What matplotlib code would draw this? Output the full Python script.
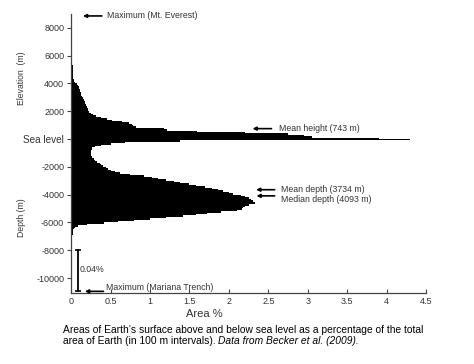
import numpy as np
import matplotlib.pyplot as plt
from matplotlib import transforms

plt.rcParams['font.family'] = ['Liberation Sans', 'DejaVu Sans']

# area % per 100 m bin, land from sea level upward (0-100 m first)
land_pct = [3.9, 3.05, 2.95, 2.75, 2.2, 1.6, 1.22, 1.18, 0.82, 0.79,
            0.77, 0.74, 0.65, 0.52, 0.45, 0.38, 0.32, 0.28, 0.25, 0.23,
            0.22, 0.21, 0.2, 0.2, 0.19, 0.18, 0.17, 0.16, 0.16, 0.15,
            0.14, 0.13, 0.12, 0.12, 0.11, 0.11, 0.1, 0.1, 0.09, 0.07,
            0.05, 0.04, 0.035, 0.03, 0.03, 0.03, 0.03, 0.025, 0.025, 0.02,
            0.02, 0.02, 0.018, 0.015, 0.015, 0.012, 0.01, 0.008, 0.005, 0.003,
            0.002, 0.001, 0.001, 0.0005, 0.0003, 0.0002, 0.0001, 0.0001, 0.0001, 0.0001,
            0, 0, 0, 0, 0, 0, 0, 0, 0, 0,
            0, 0, 0, 0, 0, 0, 0, 0, 0, 0]

# area % per 100 m bin, ocean from sea level downward (-100-0 m first)
ocean_pct = [4.3, 1.38, 0.68, 0.5, 0.38, 0.3, 0.27, 0.26, 0.25, 0.25,
             0.25, 0.25, 0.26, 0.27, 0.29, 0.3, 0.33, 0.36, 0.38, 0.41,
             0.44, 0.47, 0.51, 0.56, 0.62, 0.75, 0.92, 1.02, 1.1, 1.2,
             1.3, 1.38, 1.5, 1.58, 1.7, 1.78, 1.86, 1.93, 2.0, 2.05,
             2.15, 2.2, 2.25, 2.28, 2.3, 2.33, 2.33, 2.25, 2.2, 2.18,
             2.17, 2.1, 1.9, 1.72, 1.58, 1.42, 1.2, 1.0, 0.8, 0.6,
             0.42, 0.2, 0.09, 0.05, 0.04, 0.03, 0.025, 0.02, 0.02, 0.015,
             0.012, 0.012, 0.01, 0.01, 0.01, 0.008, 0.008, 0.007, 0.006, 0.006,
             0.005, 0.005, 0.004, 0.004, 0.004, 0.003, 0.003, 0.003, 0.002, 0.002,
             0.002, 0.002, 0.002, 0.001, 0.001, 0.001, 0.001, 0.001, 0.001, 0.001,
             0.001, 0.001, 0.0005, 0.0005, 0.0005, 0.0005, 0.0003, 0.0002, 0.0001, 0.0001]

ytick_vals = [8000, 6000, 4000, 2000, 0, -2000, -4000, -6000, -8000, -10000]
ytick_labels = ['8000', '6000', '4000', '2000', 'Sea level',
                '-2000', '-4000', '-6000', '-8000', '-10000']
xtick_vals = [0, 0.5, 1, 1.5, 2, 2.5, 3, 3.5, 4, 4.5]
xtick_labels = ['0', '0.5', '1', '1.5', '2', '2.5', '3', '3.5', '4', '4.5']

bin_m = 100
values = np.array(ocean_pct[::-1] + land_pct)
edges = np.arange(-len(ocean_pct), len(land_pct) + 1) * bin_m

fig = plt.figure(figsize=(4.74, 3.64), dpi=100)
ax = fig.add_axes([0.150, 0.195, 0.749, 0.767])

ax.stairs(values, edges, orientation='horizontal', baseline=0, fill=True,
          color='black', lw=0)

ax.set_xlim(0, 4.5)
ax.set_ylim(-11080, 9000)
ax.spines['top'].set_visible(False)
ax.spines['right'].set_visible(False)
for s in ['left', 'bottom']:
    ax.spines[s].set_color('#444444')
    ax.spines[s].set_linewidth(0.9)

ax.set_xticks(xtick_vals)
ax.set_xticklabels(xtick_labels)
ax.set_yticks(ytick_vals)
ax.set_yticklabels(ytick_labels)
ax.tick_params(axis='x', direction='in', length=3, width=0.8, color='#444444',
               labelsize=6.5, labelcolor='#333333', pad=3)
ax.tick_params(axis='y', direction='out', length=3, width=0.8, color='#444444',
               labelsize=6.5, labelcolor='#333333', pad=2)
for lbl in ax.get_yticklabels():
    if lbl.get_text() == 'Sea level':
        lbl.set_fontsize(7.2)

txt = dict(fontsize=6.3, color='#333333', va='center')
arr = dict(arrowstyle='-|>', color='black', lw=1.2, mutation_scale=5,
           shrinkA=0, shrinkB=0)

ax.annotate('', xy=(0.15, 8848), xytext=(0.39, 8848), arrowprops=arr)
ax.text(0.46, 8848, 'Maximum (Mt. Everest)', **txt)

ax.annotate('', xy=(2.30, 743), xytext=(2.54, 743), arrowprops=arr)
ax.text(2.64, 743, 'Mean height (743 m)', **txt)

ax.annotate('', xy=(2.345, -3650), xytext=(2.58, -3650), arrowprops=arr)
ax.text(2.66, -3600, 'Mean depth (3734 m)', **txt)

ax.annotate('', xy=(2.35, -4093), xytext=(2.58, -4093), arrowprops=arr)
ax.text(2.66, -4380, 'Median depth (4093 m)', **txt)

ax.annotate('', xy=(0.175, -10960), xytext=(0.41, -10960), arrowprops=arr)
ax.text(0.445, -10650, 'Maximum (Mariana Trench)', **txt)

# 0.04% bracket
ax.plot([0.085, 0.085], [-8000, -10960], color='black', lw=1.3)
ax.plot([0.085, 0.085], [-8000, -10960], ls='none', marker='_', ms=4,
        mew=1.2, color='black')
ax.text(0.11, -9420, '0.04%', **txt)

# side labels
tr = transforms.blended_transform_factory(fig.transFigure, ax.transData)
ax.text(0.046, 4400, 'Elevation  (m)', transform=tr, rotation=90,
        ha='center', va='center', fontsize=6.2, color='#333333')
ax.text(0.046, -5650, 'Depth (m)', transform=tr, rotation=90,
        ha='center', va='center', fontsize=6.2, color='#333333')

fig.text(0.43, 0.137, 'Area %', ha='center', va='center', fontsize=8,
         color='#333333')

cap = dict(fontsize=7.4, color='black', va='center')
fig.text(0.132, 0.093,
         'Areas of Earth\u2019s surface above and below sea level as a percentage of the total',
         **cap)
t2 = fig.text(0.132, 0.063, 'area of Earth (in 100 m intervals). ', **cap)
fig.canvas.draw()
bb = t2.get_window_extent(renderer=fig.canvas.get_renderer())
fig.text(bb.x1 / fig.bbox.width, 0.063, 'Data from Becker et al. (2009).',
         style='italic', **cap)

fig.savefig('out.png', dpi=100)
